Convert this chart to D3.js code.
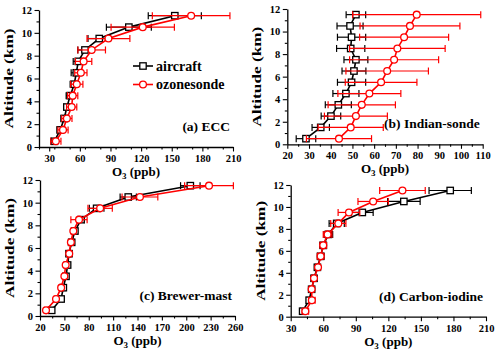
<!DOCTYPE html>
<html>
<head>
<meta charset="utf-8">
<script src="https://cdn.jsdelivr.net/npm/d3@7"></script>
<style>
  body { margin: 0; background: #fff; }
  svg { display: block; }
</style>
</head>
<body>
<div id="chart"></div>
<script>
// altitude levels (km), shared by all four panels
const altitudes = [0.5, 1.5, 2.5, 3.5, 4.5, 5.5, 6.5, 7.5, 8.5, 9.5, 10.5, 11.5];

// (a) ECC
const eccAircraft = [35, 40.8, 44.7, 47.3, 50.6, 54.5, 56.5, 58.5, 65, 79, 108, 153];
const eccAircraftErr = [3, 3, 3, 3, 4, 4, 5, 5, 7, 11, 22, 26];
const eccSonde = [36.5, 43.5, 47.3, 52, 53, 57, 61, 63.7, 71.6, 88, 121.6, 169];
const eccSondeErr = [5, 5, 5, 5, 5, 6, 6, 8, 13.5, 21, 31, 38];

// (b) Indian-sonde
const indianAircraft = [28.6, 35.4, 40.1, 43.5, 47, 49.6, 50.7, 51.6, 49.2, 49.6, 48.9, 51.6];
const indianAircraftErr = [4.5, 4, 4.5, 6, 6, 6.5, 5.5, 5.5, 6.5, 6.5, 6, 4.5];
const indianSonde = [43.8, 49.2, 51.6, 54.3, 57.8, 63.2, 66, 69.2, 70.7, 73.8, 76.5, 79.6];
const indianSondeErr = [15, 15, 14.5, 15.5, 14.5, 16.5, 19, 20.5, 22, 20.5, 23, 29.5];

// (c) Brewer-mast
const brewerAircraft = [34.4, 46, 48.7, 52, 54, 55.7, 59, 63, 70.5, 89.7, 128.6, 205];
const brewerAircraftErr = [2, 2, 2, 2, 2, 2, 3, 3, 4, 9, 10, 12];
const brewerSonde = [27.4, 39.7, 46, 50, 51.6, 56, 58, 61, 68, 94, 143, 228];
const brewerSondeErr = [2, 2, 2, 2, 2, 2, 3, 3, 10, 15, 22, 30];

// (d) Carbon-iodine
const carbonAircraft = [41, 47, 49.3, 51.5, 54.6, 57.6, 60, 64.7, 72.4, 96, 134.3, 177];
const carbonAircraftErr = [2, 2, 2, 2, 2, 3, 3, 4, 7, 10, 15, 19.5];
const carbonSonde = [43.5, 49.5, 49.3, 51.5, 55.2, 57.6, 60, 64, 73.9, 83.7, 106, 133];
const carbonSondeErr = [3, 3, 2, 2, 2, 3, 3, 4, 7, 10, 14, 21];

// tick labels
const ticksA = [30, 60, 90, 120, 150, 180, 210];
const ticksB = [20, 30, 40, 50, 60, 70, 80, 90, 100, 110];
const ticksC = [20, 50, 80, 110, 140, 170, 200, 230, 260];
const ticksD = [30, 60, 90, 120, 150, 180, 210];
const altTicks = [0, 2, 4, 6, 8, 10, 12];
const seriesNames = ["aircraft", "ozonesonde"];

const FONT = "'Liberation Serif', 'Times New Roman', serif";
const BLACK = "#000";
const RED = "#ff0000";

const svg = d3.select("#chart").append("svg")
	.attr("width", 500)
	.attr("height", 355);

/* panel placement, one entry per sub plot */
const panels = [
	{ label: "(a) ECC", domain: [20, 210], ticks: ticksA, minorStep: 15,
		px: [39, 233], py: [147, 10],
		air: eccAircraft, airErr: eccAircraftErr, sonde: eccSonde, sondeErr: eccSondeErr, legend: true },
	{ label: "(b) Indian-sonde", domain: [20, 110], ticks: ticksB, minorStep: 5,
		px: [287.3, 482.7], py: [144.3, 9],
		air: indianAircraft, airErr: indianAircraftErr, sonde: indianSonde, sondeErr: indianSondeErr },
	{ label: "(c) Brewer-mast", domain: [20, 260], ticks: ticksC, minorStep: 15,
		px: [40, 235], py: [316, 180],
		air: brewerAircraft, airErr: brewerAircraftErr, sonde: brewerSonde, sondeErr: brewerSondeErr },
	{ label: "(d) Carbon-iodine", domain: [30, 210], ticks: ticksD, minorStep: 15,
		px: [290.7, 486], py: [316.7, 185],
		air: carbonAircraft, airErr: carbonAircraftErr, sonde: carbonSonde, sondeErr: carbonSondeErr }
];

function styleAxis(g) {
	g.attr("font-family", FONT).attr("font-size", 10.5).attr("font-weight", "bold");
	g.select(".domain").attr("stroke-width", 1.3);
	g.selectAll(".tick line").attr("stroke-width", 1.1);
}

function drawSeries(g, x, y, vals, errs, color, shape) {
	const pts = altitudes.map((a, i) => ({ alt: a, v: vals[i], e: errs[i] }));

	/* error bars with caps */
	const eb = g.append("g").attr("stroke", color).attr("stroke-width", 1.2).attr("fill", "none");
	pts.forEach(d => {
		const yy = y(d.alt);
		eb.append("line").attr("x1", x(d.v - d.e)).attr("x2", x(d.v + d.e)).attr("y1", yy).attr("y2", yy);
		eb.append("line").attr("x1", x(d.v - d.e)).attr("x2", x(d.v - d.e)).attr("y1", yy - 3.5).attr("y2", yy + 3.5);
		eb.append("line").attr("x1", x(d.v + d.e)).attr("x2", x(d.v + d.e)).attr("y1", yy - 3.5).attr("y2", yy + 3.5);
	});

	const line = d3.line().x(d => x(d.v)).y(d => y(d.alt));
	g.append("path").datum(pts)
		.attr("d", line)
		.attr("fill", "none")
		.attr("stroke", color)
		.attr("stroke-width", 1.6);

	drawMarkers(g, pts.map(d => [x(d.v), y(d.alt)]), color, shape);
}

function drawMarkers(g, xy, color, shape) {
	if (shape === "square") {
		g.selectAll(null).data(xy).enter().append("rect")
			.attr("x", d => d[0] - 3.2).attr("y", d => d[1] - 3.2)
			.attr("width", 6.4).attr("height", 6.4)
			.attr("fill", "#fff").attr("stroke", color).attr("stroke-width", 1.3);
	} else {
		g.selectAll(null).data(xy).enter().append("circle")
			.attr("cx", d => d[0]).attr("cy", d => d[1]).attr("r", 3.4)
			.attr("fill", "#fff").attr("stroke", color).attr("stroke-width", 1.3);
	}
}

panels.forEach(p => {
	const x = d3.scaleLinear().domain(p.domain).range(p.px);
	const y = d3.scaleLinear().domain([0, 12]).range(p.py);
	const g = svg.append("g");

	const minors = d3.range(p.domain[0], p.domain[1] + 0.001, p.minorStep)
		.filter(v => !p.ticks.includes(v));

	/* x axis */
	g.append("g").attr("transform", `translate(0,${p.py[0]})`)
		.call(d3.axisBottom(x).tickValues(minors).tickSize(2.5).tickFormat("").tickSizeOuter(0))
		.call(a => a.select(".domain").remove())
		.call(a => a.selectAll(".tick line").attr("stroke-width", 1.1));
	g.append("g").attr("transform", `translate(0,${p.py[0]})`)
		.call(d3.axisBottom(x).tickValues(p.ticks).tickSize(4.5).tickPadding(3).tickSizeOuter(0))
		.call(styleAxis);

	/* y axis */
	g.append("g").attr("transform", `translate(${p.px[0]},0)`)
		.call(d3.axisLeft(y).tickValues([1, 3, 5, 7, 9, 11]).tickSize(2.5).tickFormat("").tickSizeOuter(0))
		.call(a => a.select(".domain").remove())
		.call(a => a.selectAll(".tick line").attr("stroke-width", 1.1));
	g.append("g").attr("transform", `translate(${p.px[0]},0)`)
		.call(d3.axisLeft(y).tickValues(altTicks).tickSize(4.5).tickPadding(2.5).tickSizeOuter(0))
		.call(styleAxis);

	/* axis titles */
	const xt = g.append("text")
		.attr("x", (p.px[0] + p.px[1]) / 2).attr("y", p.py[0] + 29)
		.attr("text-anchor", "middle")
		.attr("font-family", FONT).attr("font-size", 13).attr("font-weight", "bold");
	xt.append("tspan").text("O");
	xt.append("tspan").text("3").attr("font-size", 9).attr("dy", 3);
	xt.append("tspan").text(" (ppb)").attr("dy", -3);

	g.append("text")
		.attr("transform", `translate(${p.px[0] - 26},${(p.py[0] + p.py[1]) / 2}) rotate(-90)`)
		.attr("text-anchor", "middle")
		.attr("font-family", FONT).attr("font-size", 13.5).attr("font-weight", "bold")
		.attr("textLength", 100).attr("lengthAdjust", "spacingAndGlyphs")
		.text("Altitude (km)");

	/* data */
	drawSeries(g, x, y, p.air, p.airErr, BLACK, "square");
	drawSeries(g, x, y, p.sonde, p.sondeErr, RED, "circle");

	/* panel label */
	g.append("text")
		.attr("x", p.px[1] - 3).attr("y", p.py[0] - 16)
		.attr("text-anchor", "end")
		.attr("font-family", FONT).attr("font-size", 13.5).attr("font-weight", "bold")
		.text(p.label);

	/* legend (panel a only) */
	if (p.legend) {
		const colors = [BLACK, RED];
		const shapes = ["square", "circle"];
		seriesNames.forEach((name, i) => {
			const ly = 66 + i * 18.5;
			const lg = g.append("g");
			lg.append("line").attr("x1", 133).attr("x2", 153).attr("y1", ly).attr("y2", ly)
				.attr("stroke", colors[i]).attr("stroke-width", 1.6);
			drawMarkers(lg, [[143, ly]], colors[i], shapes[i]);
			lg.append("text").attr("x", 156).attr("y", ly + 4.5)
				.attr("font-family", FONT).attr("font-size", 14).attr("font-weight", "bold")
				.text(name);
		});
	}
});
</script>
</body>
</html>
